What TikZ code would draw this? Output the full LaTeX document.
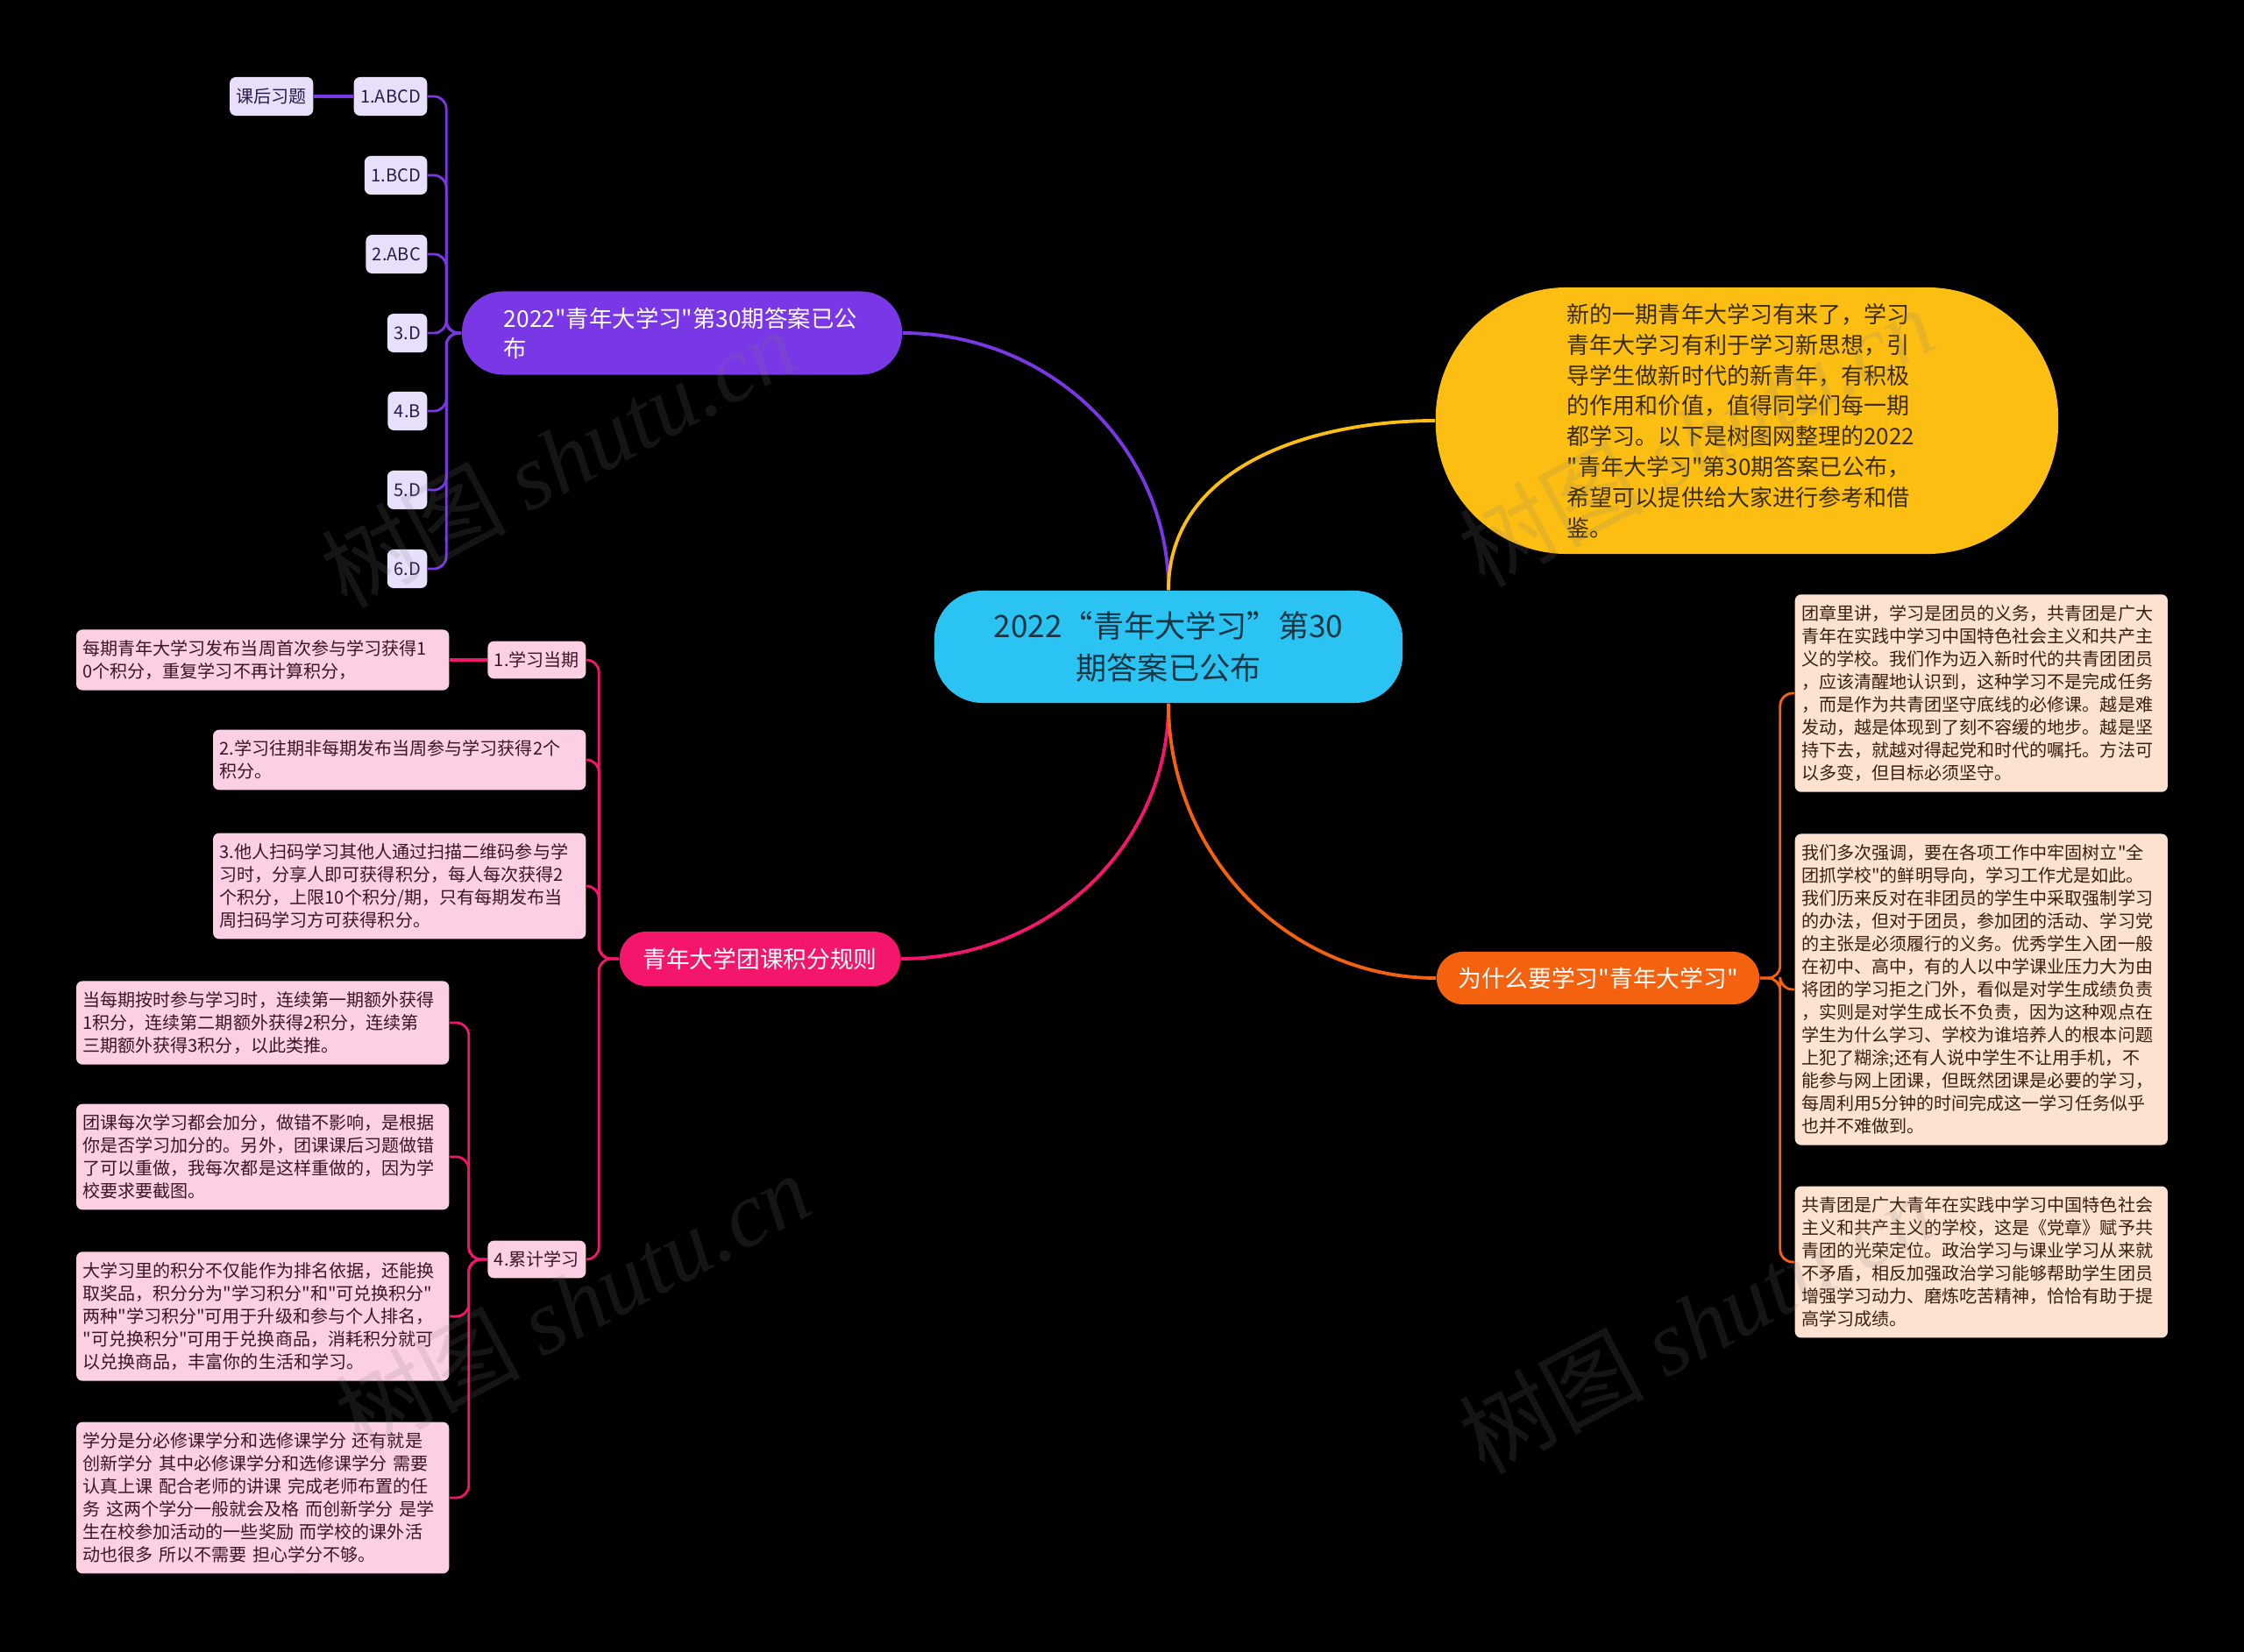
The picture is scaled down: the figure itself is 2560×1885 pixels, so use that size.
\documentclass[tikz,border=0pt]{standalone}
\usepackage{fontspec}
\setmainfont{Noto Sans CJK SC}[Ligatures=TeXOff]
\newfontfamily\wmfont{Liberation Serif}
\definecolor{rootc}{HTML}{2BC4F2}
\definecolor{roott}{HTML}{173545}
\definecolor{ansc}{HTML}{7A37E5}
\definecolor{ansl}{HTML}{E8E0FA}
\definecolor{anst}{HTML}{2B1B4B}
\definecolor{introc}{HTML}{FCBE12}
\definecolor{introt}{HTML}{3A2C05}
\definecolor{rulec}{HTML}{F4166C}
\definecolor{rulel}{HTML}{FDCFE2}
\definecolor{rulet}{HTML}{3B1526}
\definecolor{whyc}{HTML}{F5620F}
\definecolor{whyl}{HTML}{FDE2D2}
\definecolor{whyt}{HTML}{3B1E0C}
\tikzset{
  leaf/.style={rounded corners=2pt,inner xsep=0.075cm,inner ysep=0.12cm,
    font=\fontsize{5.7pt}{7.4pt}\selectfont,align=left},
  ansleaf/.style={leaf,fill=ansl,text=anst,minimum height=0.44cm},
  ruleleaf/.style={leaf,fill=rulel,text=rulet},
  whyleaf/.style={leaf,fill=whyl,text=whyt,text width=4.1cm},
  wide/.style={text width=4.1cm},
  mainbox/.style={text=white,rounded corners=0.3cm,font=\fontsize{7.6pt}{9.7pt}\selectfont},
  link/.style={line width=1.1pt},
  fork/.style={line width=0.8pt,rounded corners=4pt},
  wm/.style={rotate=28,text=gray,text opacity=0.17,font=\fontsize{30pt}{32pt}\selectfont}
}
\begin{document}
\begin{tikzpicture}[x=0.01cm,y=0.01cm]
\fill[black] (0,0) rectangle (2560,-1885);
\useasboundingbox (0,0) rectangle (2560,-1885);

\node[fill=rootc,text=roott,rounded corners=0.55cm,minimum width=5.34cm,minimum height=1.28cm,
  align=center,font=\fontsize{10pt}{13.4pt}\selectfont] (root) at (1333,-738)
  {2022“青年大学习”第30\\期答案已公布};

\node[fill=ansc,text=white,rounded corners=0.47cm,minimum height=0.95cm,inner xsep=0.48cm,
  text width=4.06cm,align=left,font=\fontsize{7.5pt}{9.7pt}\selectfont] (ans) at (778,-380)
  {2022"青年大学习"第30期答案已公\\布};
\foreach \i/\t/\y in {1/1.ABCD/110, 2/1.BCD/200, 3/2.ABC/290, 4/3.D/380, 5/4.B/469, 6/5.D/559, 7/6.D/649}
  \node[ansleaf,anchor=east] (a\i) at (488,-\y) {\t};
\node[ansleaf,anchor=east] (hw) at (358,-110) {课后习题};

\node[fill=introc,text=introt,rounded corners=1.5cm,minimum height=3.04cm,inner xsep=1.5cm,
  text width=4.1cm,align=left,font=\fontsize{7.4pt}{9.9pt}\selectfont] (intro) at (1993,-480)
  {新的一期青年大学习有来了，学习\\青年大学习有利于学习新思想，引\\导学生做新时代的新青年，有积极\\的作用和价值，值得同学们每一期\\都学习。以下是树图网整理的2022\\"青年大学习"第30期答案已公布，\\希望可以提供给大家进行参考和借\\鉴。};

\node[mainbox,fill=rulec,minimum width=3.2cm,minimum height=0.62cm] (rule) at (867,-1094) {青年大学团课积分规则};
\node[ruleleaf,anchor=east] (r1) at (669,-753) {1.学习当期};
\node[ruleleaf,wide,anchor=east] (r1t) at (513,-753)
  {每期青年大学习发布当周首次参与学习获得1\\0个积分，重复学习不再计算积分，};
\node[ruleleaf,wide,anchor=east] (r2) at (669,-867)
  {2.学习往期非每期发布当周参与学习获得2个\\积分。};
\node[ruleleaf,wide,anchor=east] (r3) at (669,-1011)
  {3.他人扫码学习其他人通过扫描二维码参与学\\习时，分享人即可获得积分，每人每次获得2\\个积分，上限10个积分/期，只有每期发布当\\周扫码学习方可获得积分。};
\node[ruleleaf,anchor=east] (r4) at (669,-1437) {4.累计学习};
\node[ruleleaf,wide,anchor=east] (r4a) at (513,-1167)
  {当每期按时参与学习时，连续第一期额外获得\\1积分，连续第二期额外获得2积分，连续第\\三期额外获得3积分，以此类推。};
\node[ruleleaf,wide,anchor=east] (r4b) at (513,-1320)
  {团课每次学习都会加分，做错不影响，是根据\\你是否学习加分的。另外，团课课后习题做错\\了可以重做，我每次都是这样重做的，因为学\\校要求要截图。};
\node[ruleleaf,wide,anchor=east] (r4c) at (513,-1502)
  {大学习里的积分不仅能作为排名依据，还能换\\取奖品，积分分为"学习积分"和"可兑换积分"\\两种"学习积分"可用于升级和参与个人排名，\\"可兑换积分"可用于兑换商品，消耗积分就可\\以兑换商品，丰富你的生活和学习。};
\node[ruleleaf,wide,anchor=east] (r4d) at (513,-1709)
  {学分是分必修课学分和选修课学分 还有就是\\创新学分 其中必修课学分和选修课学分 需要\\认真上课 配合老师的讲课 完成老师布置的任\\务 这两个学分一般就会及格 而创新学分 是学\\生在校参加活动的一些奖励 而学校的课外活\\动也很多 所以不需要 担心学分不够。};

\node[mainbox,fill=whyc,minimum width=3.68cm,minimum height=0.6cm] (why) at (1823,-1116) {为什么要学习"青年大学习"};
\node[whyleaf,anchor=west] (w1) at (2047,-791)
  {团章里讲，学习是团员的义务，共青团是广大\\青年在实践中学习中国特色社会主义和共产主\\义的学校。我们作为迈入新时代的共青团团员\\，应该清醒地认识到，这种学习不是完成任务\\，而是作为共青团坚守底线的必修课。越是难\\发动，越是体现到了刻不容缓的地步。越是坚\\持下去，就越对得起党和时代的嘱托。方法可\\以多变，但目标必须坚守。};
\node[whyleaf,anchor=west] (w2) at (2047,-1129)
  {我们多次强调，要在各项工作中牢固树立"全\\团抓学校"的鲜明导向，学习工作尤是如此。\\我们历来反对在非团员的学生中采取强制学习\\的办法，但对于团员，参加团的活动、学习党\\的主张是必须履行的义务。优秀学生入团一般\\在初中、高中，有的人以中学课业压力大为由\\将团的学习拒之门外，看似是对学生成绩负责\\，实则是对学生成长不负责，因为这种观点在\\学生为什么学习、学校为谁培养人的根本问题\\上犯了糊涂;还有人说中学生不让用手机，不\\能参与网上团课，但既然团课是必要的学习，\\每周利用5分钟的时间完成这一学习任务似乎\\也并不难做到。};
\node[whyleaf,anchor=west] (w3) at (2047,-1440)
  {共青团是广大青年在实践中学习中国特色社会\\主义和共产主义的学校，这是《党章》赋予共\\青团的光荣定位。政治学习与课业学习从来就\\不矛盾，相反加强政治学习能够帮助学生团员\\增强学习动力、磨炼吃苦精神，恰恰有助于提\\高学习成绩。};

\draw[link,ansc] (ans.east) to[out=0,in=90] (root.north);
\draw[link,introc] (root.north) to[out=90,in=180] (intro.west);
\draw[link,rulec] (root.south) to[out=-90,in=0] (rule.east);
\draw[link,whyc] (root.south) to[out=-90,in=180] (why.west);
\foreach \i in {1,...,7}
  \draw[fork,ansc] (ans.west) -- ++(-17,0) |- (a\i.east);
\draw[link,ansc] (a1.west) -- (hw.east);
\foreach \n in {r1,r2,r3,r4}
  \draw[fork,rulec] (rule.west) -- ++(-23,0) |- (\n.east);
\draw[link,rulec] (r1.west) -- (r1t.east);
\foreach \n in {r4a,r4b,r4c,r4d}
  \draw[fork,rulec] (r4.west) -- ++(-21,0) |- (\n.east);
\foreach \n in {w1,w2,w3}
  \draw[fork,whyc] (why.east) -- ++(23,0) |- (\n.west);

\foreach \x/\y [count=\k] in {637/522, 1935/498, 653/1486, 1935/1510}
  \node[wm] (wm\k) at (\x,-\y) {树图 {\wmfont\itshape shutu.cn}};
\end{tikzpicture}
\end{document}
